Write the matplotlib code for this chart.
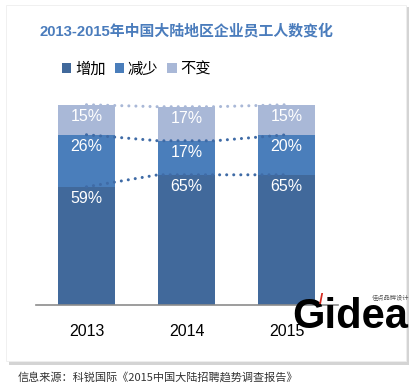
import matplotlib.pyplot as plt
from matplotlib.patches import Rectangle
import numpy as np

plt.rcParams['font.family'] = ['Liberation Sans', 'Noto Sans CJK SC', 'DejaVu Sans']

years = ["2013", "2014", "2015"]
increase = [59, 65, 65]
decrease = [26, 17, 20]
unchanged = [15, 17, 15]
series_names = ["增加", "减少", "不变"]
colors = ["#41699b", "#4a7ebb", "#a9b8d7"]
line_colors = ["#3f6ba6", "#3f6ba6", "#a9b8d7"]

fig = plt.figure(figsize=(4.18, 3.90), dpi=100)
W, H = 418, 390

# card with shadow
fig.patches.append(Rectangle((9 / W, 1 - 365 / H), 400 / W, 358 / H, transform=fig.transFigure,
                             facecolor="#d4d4d4", edgecolor="none", zorder=-2))
fig.patches.append(Rectangle((6 / W, 1 - 361 / H), 400 / W, 356 / H, transform=fig.transFigure,
                             facecolor="white", edgecolor="#eeeeee", lw=0.6, zorder=-1))

ax = fig.add_axes([36 / W, 1 - 305 / H, 302 / W, 200.3 / H])
ax.set_zorder(1)
ax.set_facecolor("none")
x = np.arange(len(years))
w = 0.57
data = [increase, decrease, unchanged]
bottom = np.zeros(len(years))
tops = []
for vals, c, name in zip(data, colors, series_names):
    vals = np.array(vals)
    ax.bar(x, vals, w, bottom=bottom, color=c, label=name, zorder=2)
    top = bottom + vals
    for xi, t, v in zip(x, top, vals):
        ax.text(xi, t - 6, f"{v}%", ha="center", va="center", color="white", fontsize=11.5, zorder=4)
    tops.append(top)
    bottom = top

# dotted series lines
for top, lc in zip(tops, line_colors):
    xs, ys = [x[0]], [top[0]]
    for i in range(1, len(x) - 1):
        xs += [x[i] - w / 2, x[i] + w / 2]
        ys += [top[i], top[i]]
    xs.append(x[-1])
    ys.append(top[-1])
    ax.plot(xs, ys, color=lc, lw=2.2, linestyle=(0, (0.01, 2.3)), dash_capstyle="round",
            zorder=3, clip_on=False)

ax.set_xlim(-0.505, 2.515)
ax.set_ylim(0, 100)
for s in ["top", "right", "left"]:
    ax.spines[s].set_visible(False)
ax.spines["bottom"].set_color("#8c8c8c")
ax.spines["bottom"].set_linewidth(1.2)
ax.set_yticks([])
ax.set_xticks(x)
ax.set_xticklabels(years, fontsize=11.5)
ax.tick_params(axis="x", length=0, pad=14)

fig.text(40 / W, 1 - 31 / H, "2013-2015年中国大陆地区企业员工人数变化", fontsize=10.7,
         fontweight="bold", color="#4a7cbc", ha="left", va="center")

handles, labels = ax.get_legend_handles_labels()
fig.legend(handles, labels, loc="center left", bbox_to_anchor=(56 / W, 1 - 69 / H),
           ncol=3, frameon=False, handlelength=0.6, handleheight=0.6,
           handletextpad=0.25, columnspacing=0.6, borderaxespad=0,
           prop={"family": ["Noto Sans CJK SC"], "size": 11})

# watermark logo
fig.text(292 / W, 1 - 328 / H, "Gidea", fontsize=30, fontweight="bold", color="black",
         ha="left", va="baseline", zorder=5)
fig.text(319 / W, 1 - 300 / H, "/", fontsize=11, fontweight="bold", color="#d42a20",
         ha="left", va="center", zorder=5)
fig.text(409 / W, 1 - 297 / H, "佳点品牌设计", fontsize=4.5, color="#555555", ha="right", va="center",
         family=["Noto Sans CJK SC"], zorder=5)

fig.text(18 / W, 1 - 377 / H, "信息来源：科锐国际《2015中国大陆招聘趋势调查报告》", fontsize=8,
         color="#333333", ha="left", va="center", family=["Noto Sans CJK SC"])

fig.savefig("out.png", dpi=100)
